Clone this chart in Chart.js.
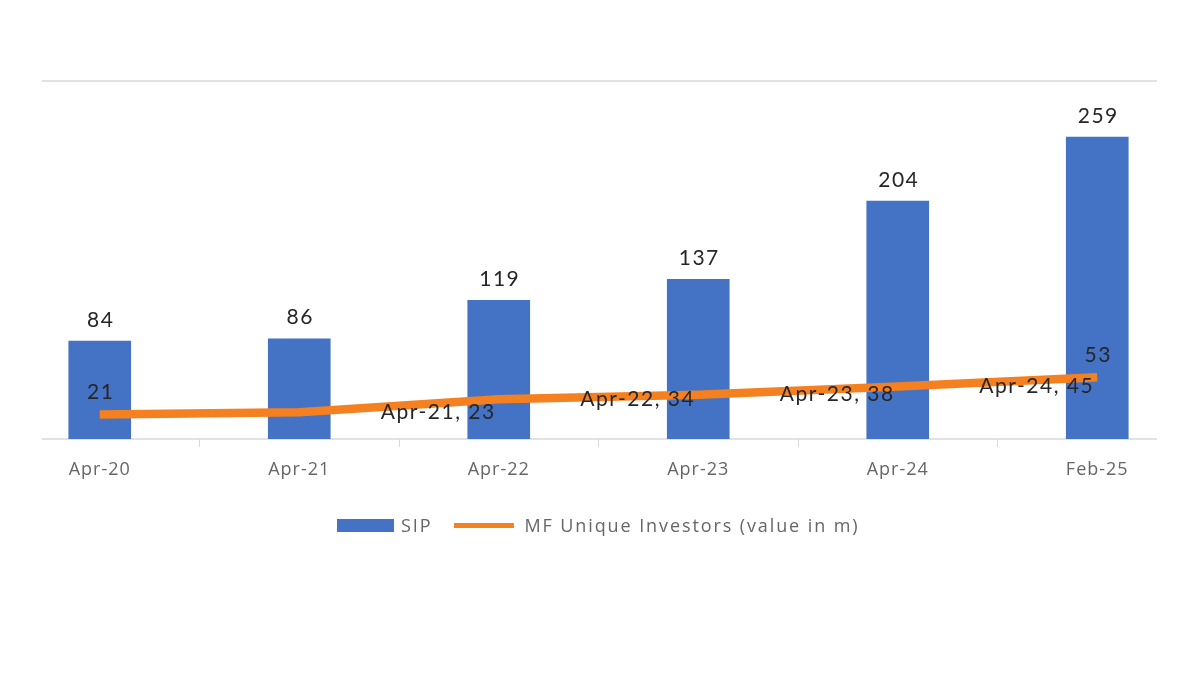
<!DOCTYPE html>
<html>
<head>
<meta charset="utf-8">
<script src="https://cdn.jsdelivr.net/npm/chart.js@4"></script>
<style>
	body { margin: 0; background: #fff; }
	#wrap { position: relative; width: 1198px; height: 675px; }
	#legend { position: absolute; left: 337px; top: 513px; font-family: 'Open Sans', sans-serif; font-size: 18px; letter-spacing: 1.9px; color: #666; display: flex; align-items: center; white-space: nowrap; }
	.sw-bar { display: inline-block; width: 57px; height: 13px; background: #4472C4; margin-right: 7px; }
	.sw-line { display: inline-block; width: 60px; height: 5px; background: #F5801F; margin: 0 10px 0 22px; }
</style>
</head>
<body>
<div id="wrap">
	<canvas id="myChart" width="1198" height="675"></canvas>
	<div id="legend">
		<span class="sw-bar"></span><span>SIP</span>
		<span class="sw-line"></span><span>MF Unique Investors (value in m)</span>
	</div>
</div>
<script>
// data
const categories = ['Apr-20', 'Apr-21', 'Apr-22', 'Apr-23', 'Apr-24', 'Feb-25'];
const sipValues = [84, 86, 119, 137, 204, 259];
const investorValues = [21, 23, 34, 38, 45, 53];
const investorLabels = ['21', 'Apr-21, 23', 'Apr-22, 34', 'Apr-23, 38', 'Apr-24, 45', '53'];

// frame lines + data labels
const extras = {
	id: 'extras',
	beforeDraw(chart) {
		chart.ctx.letterSpacing = '1px';
	},
	beforeDatasetsDraw(chart) {
		const { ctx, chartArea } = chart;
		ctx.save();
		ctx.strokeStyle = '#d9d9d9';
		ctx.lineWidth = 1.5;
		ctx.beginPath();
		ctx.moveTo(42, chartArea.top);
		ctx.lineTo(1157, chartArea.top);
		ctx.moveTo(42, chartArea.bottom);
		ctx.lineTo(1157, chartArea.bottom);
		ctx.stroke();
		ctx.restore();
	},
	afterDatasetsDraw(chart) {
		const { ctx } = chart;
		ctx.save();
		ctx.font = '21px Lato';
		ctx.letterSpacing = '1.5px';
		ctx.fillStyle = '#262626';
		ctx.textAlign = 'center';
		ctx.textBaseline = 'middle';

		chart.getDatasetMeta(0).data.forEach((bar, i) => {
			ctx.fillText(sipValues[i], bar.x + 1, bar.y - 21);
		});

		const pts = chart.getDatasetMeta(1).data;
		pts.forEach((p, i) => {
			if (i === 0 || i === pts.length - 1) {
				ctx.fillText(investorLabels[i], p.x + 1, p.y - 22);
			} else {
				ctx.fillText(investorLabels[i], p.x + 139, p.y);
			}
		});
		ctx.restore();
	}
};

const ctx = document.getElementById('myChart');

new Chart(ctx, {
	type: 'bar',
	data: {
		labels: categories,
		datasets: [{
			label: 'SIP',
			data: sipValues,
			backgroundColor: '#4472C4',
			barThickness: 62,
			order: 2
		}, {
			type: 'line',
			label: 'MF Unique Investors (value in m)',
			data: investorValues,
			borderColor: '#F5801F',
			backgroundColor: '#F5801F',
			borderWidth: 8.5,
			pointRadius: 0,
			tension: 0,
			order: 1
		}]
	},
	options: {
		responsive: false,
		animation: false,
		layout: {
			padding: { top: 81, left: 0, right: 1, bottom: 182.4 }
		},
		scales: {
			x: {
				grid: {
					drawOnChartArea: false,
					tickLength: 8,
					color: (c) => (c.index === undefined || c.index === 0) ? 'rgba(0,0,0,0)' : '#d9d9d9'
				},
				border: { display: false },
				ticks: {
					padding: 12,
					color: '#666',
					font: { family: 'Open Sans', size: 18 }
				}
			},
			y: {
				display: false,
				min: 0,
				max: 307
			}
		},
		plugins: {
			legend: { display: false },
			tooltip: { enabled: false }
		}
	},
	plugins: [extras]
});
</script>
</body>
</html>
